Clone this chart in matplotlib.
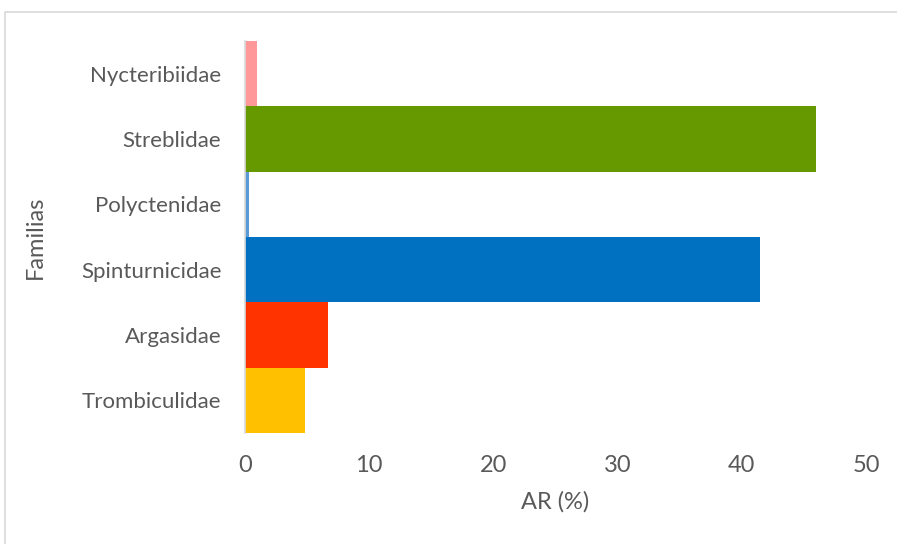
import matplotlib

matplotlib.use("Agg")
import matplotlib.pyplot as plt
from matplotlib.patches import Rectangle

families = ["Trombiculidae", "Argasidae", "Spinturnicidae", "Polyctenidae", "Streblidae", "Nycteribiidae"]
ar_values = [4.8, 6.7, 41.5, 0.3, 46.0, 1.0]
bar_colors = ["#FFC000", "#FF3300", "#0070C0", "#5B9BD5", "#669900", "#FF9999"]
x_ticks = [0, 10, 20, 30, 40, 50]

plt.rcParams["font.family"] = ["Lato", "DejaVu Sans"]
text_color = "#595959"

fig = plt.figure(figsize=(8.97, 5.44), dpi=100)
ax = fig.add_axes([245 / 897, 111 / 544, 621 / 897, 392 / 544])

ax.barh(range(len(families)), ar_values, height=1.0, color=bar_colors)
ax.set_xlim(0, 50)
ax.set_ylim(-0.5, len(families) - 0.5)
ax.set_xticks(x_ticks)
ax.set_yticks(range(len(families)))
ax.set_yticklabels(families)
ax.tick_params(axis="x", length=0, labelsize=17, labelcolor=text_color, pad=16)
ax.tick_params(axis="y", length=0, labelsize=16, labelcolor=text_color, pad=17)

for side in ["top", "right", "bottom"]:
    ax.spines[side].set_visible(False)
ax.spines["left"].set_color("#D9D9D9")
ax.spines["left"].set_linewidth(1.2)

ax.set_xlabel("AR (%)", fontsize=17, color=text_color, labelpad=11)
ax.set_ylabel("Familias", fontsize=17, color=text_color, labelpad=25)

# light chart border, open on the right and bottom like the source crop
fig.patches.append(Rectangle((5 / 897, -0.05), 1.0, 1.05 - 12 / 544, transform=fig.transFigure,
                             fill=False, edgecolor="#D9D9D9", linewidth=1.2))

fig.savefig("out.png", dpi=100)
plt.close(fig)
